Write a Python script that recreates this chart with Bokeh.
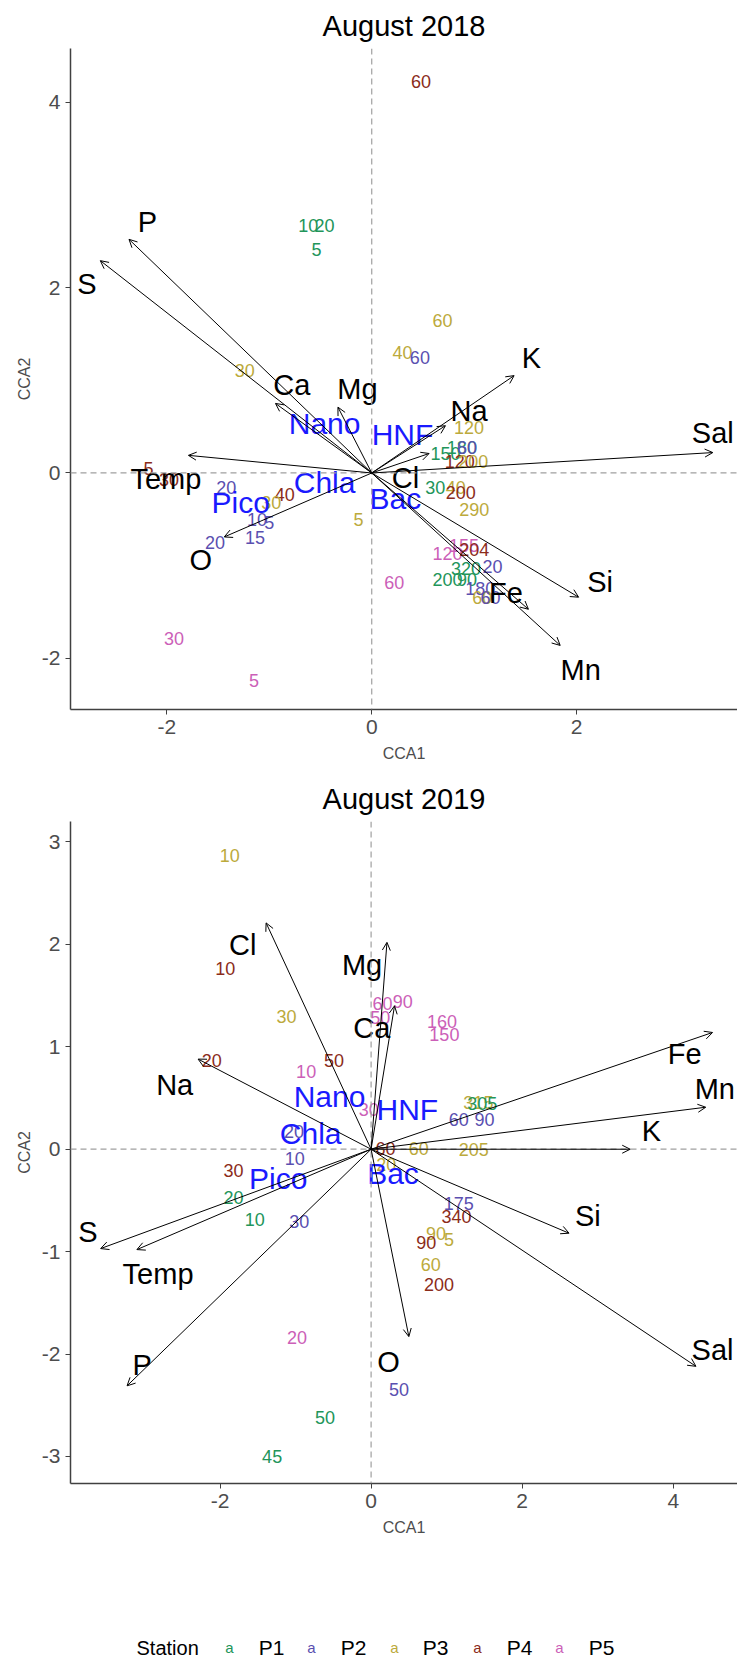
from bokeh.plotting import figure
from bokeh.models import (Range1d, Arrow, OpenHead, Span, ColumnDataSource, FixedTicker,
                          CustomJSTickFormatter)
from bokeh.layouts import column
from bokeh.core.properties import value
from bokeh.embed import file_html
from bokeh.resources import INLINE

FONT = "Liberation Sans"

# ---------------- data ----------------
stations = ["P1", "P2", "P3", "P4", "P5"]
station_colors = ["#22955a", "#5a4fb0", "#bcaa3c", "#8b2c1a", "#cc5fb8"]

# August 2018
env_2018 = ["P", "S", "Ca", "Mg", "K", "Na", "Cl", "Sal", "Temp", "O", "Si", "Fe", "Mn"]
env_x_2018 = [-2.37, -2.65, -0.94, -0.33, 1.39, 0.72, 0.56, 3.33, -1.79, -1.44, 2.02, 1.53, 1.84]
env_y_2018 = [2.52, 2.29, 0.75, 0.71, 1.05, 0.51, 0.21, 0.22, 0.19, -0.69, -1.34, -1.47, -1.86]
env_lx_2018 = [-2.19, -2.78, -0.78, -0.14, 1.56, 0.95, 0.33, 3.33, -2.01, -1.67, 2.23, 1.31, 2.04]
env_ly_2018 = [2.71, 2.04, 0.95, 0.91, 1.24, 0.67, -0.05, 0.43, -0.06, -0.94, -1.18, -1.29, -2.13]

spec_2018 = ["Nano", "HNF", "Chla", "Pico", "Bac"]
spec_x_2018 = [-0.46, 0.30, -0.46, -1.28, 0.23]
spec_y_2018 = [0.53, 0.42, -0.10, -0.32, -0.28]

samp_lab_2018 = ["60", "10", "20", "5", "60", "40", "60", "30", "120", "150", "180", "60",
                 "120", "200", "30", "40", "200", "290", "5", "5", "30", "20", "40", "30",
                 "10", "5", "15", "20", "155", "120", "204", "320", "20", "200", "90", "60",
                 "180", "60", "60", "30", "5"]
samp_st_2018 = ["P4", "P1", "P1", "P1", "P3", "P3", "P2", "P3", "P3", "P1", "P1", "P2",
                "P4", "P3", "P1", "P3", "P4", "P3", "P3", "P4", "P4", "P2", "P4", "P3",
                "P2", "P2", "P2", "P2", "P5", "P5", "P4", "P1", "P2", "P1", "P1", "P5",
                "P2", "P3", "P2", "P5", "P5"]
samp_x_2018 = [0.48, -0.62, -0.46, -0.54, 0.69, 0.30, 0.47, -1.24, 0.95, 0.72, 0.88, 0.93,
               0.86, 0.99, 0.62, 0.82, 0.87, 1.00, -0.13, -2.18, -1.98, -1.42, -0.85, -0.98,
               -1.12, -1.00, -1.14, -1.53, 0.90, 0.74, 1.00, 0.92, 1.18, 0.74, 0.93, 0.22,
               1.06, 1.08, 1.16, -1.93, -1.15]
samp_y_2018 = [4.22, 2.67, 2.67, 2.41, 1.64, 1.30, 1.24, 1.11, 0.49, 0.21, 0.28, 0.28,
               0.12, 0.12, -0.16, -0.16, -0.21, -0.39, -0.50, 0.05, -0.07, -0.16, -0.23, -0.32,
               -0.50, -0.53, -0.70, -0.75, -0.78, -0.87, -0.83, -1.03, -1.01, -1.15, -1.15, -1.18,
               -1.25, -1.34, -1.34, -1.79, -2.24]

# August 2019
env_2019 = ["Cl", "Mg", "Ca", "Na", "Fe", "Mn", "K", "S", "Temp", "Si", "Sal", "P", "O"]
env_x_2019 = [-1.39, 0.21, 0.31, -2.29, 4.52, 4.43, 3.43, -3.58, -3.10, 2.62, 4.30, -3.23, 0.50]
env_y_2019 = [2.21, 2.02, 1.40, 0.88, 1.14, 0.41, 0.00, -0.97, -0.98, -0.82, -2.12, -2.31, -1.83]
env_lx_2019 = [-1.70, -0.12, 0.01, -2.60, 4.15, 4.55, 3.71, -3.75, -2.82, 2.87, 4.52, -3.03, 0.23]
env_ly_2019 = [1.99, 1.80, 1.18, 0.63, 0.93, 0.59, 0.18, -0.81, -1.22, -0.65, -1.96, -2.11, -2.08]

spec_2019 = ["Nano", "HNF", "Chla", "Pico", "Bac"]
spec_x_2019 = [-0.55, 0.48, -0.80, -1.23, 0.29]
spec_y_2019 = [0.51, 0.39, 0.15, -0.29, -0.24]

samp_lab_2019 = ["10", "10", "30", "60", "90", "50", "160", "150", "20", "50", "10", "30",
                 "315", "305", "60", "90", "60", "60", "205", "20", "10", "30", "20", "10",
                 "30", "20", "175", "340", "90", "5", "90", "60", "200", "20", "50", "50", "45"]
samp_st_2019 = ["P3", "P4", "P3", "P5", "P5", "P5", "P5", "P5", "P4", "P4", "P5", "P5",
                "P3", "P1", "P2", "P2", "P4", "P3", "P3", "P2", "P2", "P4", "P1", "P1",
                "P2", "P3", "P2", "P4", "P3", "P3", "P4", "P3", "P4", "P5", "P2", "P1", "P1"]
samp_x_2019 = [-1.87, -1.93, -1.12, 0.15, 0.42, 0.12, 0.94, 0.97, -2.11, -0.49, -0.86, -0.03,
               1.42, 1.47, 1.16, 1.50, 0.19, 0.63, 1.36, -1.02, -1.01, -1.82, -1.82, -1.54,
               -0.95, 0.20, 1.16, 1.13, 0.86, 1.03, 0.73, 0.79, 0.90, -0.98, 0.37, -0.61, -1.31]
samp_y_2019 = [2.87, 1.76, 1.30, 1.42, 1.44, 1.29, 1.25, 1.12, 0.87, 0.87, 0.76, 0.39,
               0.46, 0.45, 0.29, 0.29, 0.01, 0.01, 0.00, 0.17, -0.09, -0.21, -0.47, -0.69,
               -0.71, -0.15, -0.53, -0.66, -0.82, -0.88, -0.91, -1.13, -1.32, -1.84, -2.35, -2.62, -3.00]

x_ticks_2018 = [-2, 0, 2]
y_ticks_2018 = [-2, 0, 2, 4]
x_ticks_2019 = [-2, 0, 2, 4]
y_ticks_2019 = [-3, -2, -1, 0, 1, 2, 3]

color_of = dict(zip(stations, station_colors))


def panel(title, xr, yr, xt, yt, height, border_top, border_bottom,
          env, ex, ey, elx, ely, spec, sx, sy, slab, sst, smx, smy):
    p = figure(width=737, height=height, x_range=Range1d(*xr), y_range=Range1d(*yr),
               output_backend="svg", toolbar_location=None,
               min_border_left=70, min_border_right=0,
               min_border_top=border_top, min_border_bottom=border_bottom)
    p.title.text = title
    p.title.align = "center"
    p.title.text_font = FONT
    p.title.text_font_size = "29px"
    p.title.text_font_style = "normal"
    p.title.text_color = "black"
    p.title.standoff = 14
    p.outline_line_color = None
    p.grid.visible = False
    p.background_fill_color = "white"
    for ax, ticks, lab in ((p.xaxis[0], xt, "CCA1"), (p.yaxis[0], yt, "CCA2")):
        ax.ticker = FixedTicker(ticks=ticks)
        ax.formatter = CustomJSTickFormatter(code="return String(tick);")
        ax.minor_tick_line_color = None
        ax.major_tick_in = 0
        ax.major_tick_out = 5
        ax.major_tick_line_color = "#404040"
        ax.axis_line_color = "#404040"
        ax.axis_line_width = 1.5
        ax.major_label_text_font = FONT
        ax.major_label_text_font_size = "21px"
        ax.major_label_text_color = "#4d4d4d"
        ax.axis_label = lab
        ax.axis_label_text_font = FONT
        ax.axis_label_text_font_size = "16px"
        ax.axis_label_text_font_style = "normal"
        ax.axis_label_text_color = "#4d4d4d"
    p.xaxis[0].axis_label_standoff = 8
    p.yaxis[0].axis_label_standoff = 6
    p.add_layout(Span(location=0, dimension="width", line_color="#a0a0a0",
                      line_dash="6 4", line_width=1.2))
    p.add_layout(Span(location=0, dimension="height", line_color="#a0a0a0",
                      line_dash="6 4", line_width=1.2))

    ssrc = ColumnDataSource(dict(x=smx, y=smy, t=slab, c=[color_of[s] for s in sst]))
    p.text(x="x", y="y", text="t", source=ssrc, text_color="c",
           text_font=value(FONT), text_font_size=value("18px"),
           text_align="center", text_baseline="middle")

    asrc = ColumnDataSource(dict(x0=[0] * len(ex), y0=[0] * len(ey), x1=ex, y1=ey))
    p.add_layout(Arrow(end=OpenHead(size=8, line_width=1, line_color="black"),
                       x_start="x0", y_start="y0", x_end="x1", y_end="y1",
                       source=asrc, line_color="black", line_width=1))

    esrc = ColumnDataSource(dict(x=elx, y=ely, t=env))
    p.text(x="x", y="y", text="t", source=esrc, text_color="black",
           text_font=value(FONT), text_font_size=value("29px"),
           text_align="center", text_baseline="middle")

    psrc = ColumnDataSource(dict(x=sx, y=sy, t=spec))
    p.text(x="x", y="y", text="t", source=psrc, text_color="#1a1aff",
           text_font=value(FONT), text_font_size=value("30px"),
           text_align="center", text_baseline="middle")
    return p


p1 = panel("August 2018", (-2.941, 3.571), (-2.551, 4.578), x_ticks_2018, y_ticks_2018,
           770, 47, 61, env_2018, env_x_2018, env_y_2018, env_lx_2018, env_ly_2018,
           spec_2018, spec_x_2018, spec_y_2018,
           samp_lab_2018, samp_st_2018, samp_x_2018, samp_y_2018)
p2 = panel("August 2019", (-3.979, 4.85), (-3.264, 3.2), x_ticks_2019, y_ticks_2019,
           790, 51, 77, env_2019, env_x_2019, env_y_2019, env_lx_2019, env_ly_2019,
           spec_2019, spec_x_2019, spec_y_2019,
           samp_lab_2019, samp_st_2019, samp_x_2019, samp_y_2019)

# legend strip (its frame is aligned with the panels' frames, which start at x=70)
leg = figure(width=737, height=98, x_range=Range1d(70, 737), y_range=Range1d(0, 98),
             output_backend="svg", toolbar_location=None, min_border=0,
             min_border_left=70, min_border_right=0, min_border_top=0, min_border_bottom=0,
             x_axis_location=None, y_axis_location=None)
leg.grid.visible = False
leg.outline_line_color = None
key_x = [229, 311, 394, 477, 559]
name_x = [271, 353, 435, 519, 601]
leg.text(x=[136], y=[11], text=["Station"], text_color="black",
         text_font=value(FONT), text_font_size=value("20px"),
         text_align="left", text_baseline="middle")
leg.text(x=key_x, y=[11] * 5, text=["a"] * 5, text_color=station_colors,
         text_font=value(FONT), text_font_size=value("15px"),
         text_align="center", text_baseline="middle")
leg.text(x=name_x, y=[11] * 5, text=stations, text_color="black",
         text_font=value(FONT), text_font_size=value("21px"),
         text_align="center", text_baseline="middle")

layout = column(p1, p2, leg, spacing=0)
open("out.html", "w").write(file_html(layout, INLINE))
